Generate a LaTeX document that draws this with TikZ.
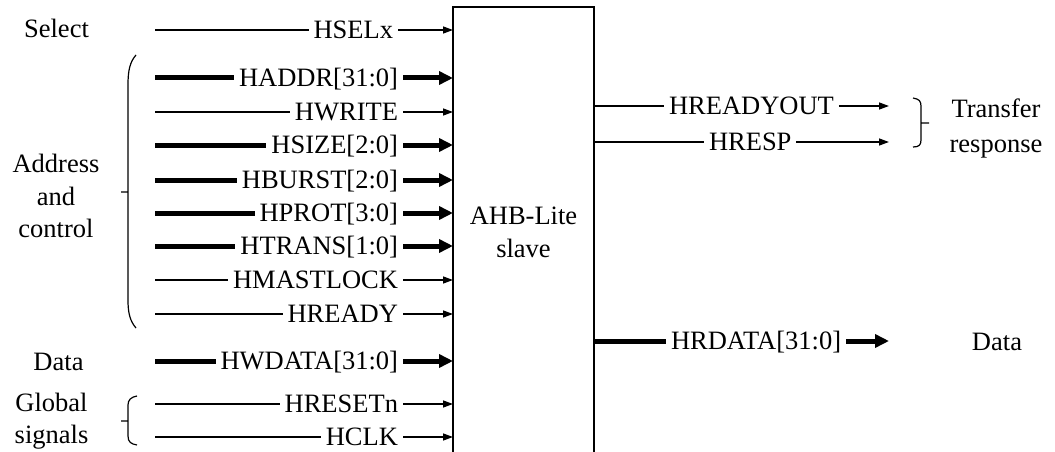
\documentclass[tikz,border=0pt]{standalone}
\usepackage{fontspec}
\setmainfont{Liberation Serif}
\usetikzlibrary{arrows.meta}
\begin{document}
\begin{tikzpicture}[x=1pt,y=-1pt,
  txt/.style={font=\fontsize{26.5}{32.5}\selectfont, inner sep=0pt, outer sep=0pt},
  sig/.style={txt, inner xsep=5pt, text height=17.5pt, text depth=0pt},
  wthin/.style={line width=1.3pt},
  wthick/.style={line width=5pt},
  wthinA/.style={line width=1.3pt,-{Triangle[length=10pt,width=7pt]}},
  wthickA/.style={line width=5pt,-{Triangle[length=14pt,width=13pt]}},
  boxline/.style={line width=2pt},
  bracket/.style={line width=1.2pt},
]
\useasboundingbox (0,0) rectangle (1055,452);

% slave block
\node[txt, align=center, minimum width=141pt, minimum height=451pt, anchor=north west] (box) at (453,7) {AHB-Lite\\slave};
\draw[boxline] (box.south west) -- (box.north west) -- (box.north east) -- (box.south east);

% thin input signals
\foreach \n/\y/\t/\e in {sel/30/HSELx/398, wr/112/HWRITE/403, lock/280/HMASTLOCK/403, rdy/314/HREADY/403, rst/404/HRESETn/403, clk/437/HCLK/403}
{
  \node[sig, anchor=east] (s\n) at (\e,\y) {\t};
  \coordinate (c\n) at (155,\y);
  \draw[wthin] (c\n) -- (s\n.west);
  \draw[wthinA] (s\n.east) -- (s\n.east -| box.west);
}
% thick input buses
\foreach \n/\y/\t/\e in {addr/78/HADDR[31:0]/403, size/145/HSIZE[2:0]/403, burst/180/HBURST[2:0]/403, prot/213/HPROT[3:0]/403, trans/246/HTRANS[1:0]/403, wdata/361/HWDATA[31:0]/403}
{
  \node[sig, anchor=east] (s\n) at (\e,\y) {\t};
  \coordinate (c\n) at (155,\y);
  \draw[wthick] (c\n) -- (s\n.west);
  \draw[wthickA] (s\n.east) -- (s\n.east -| box.west);
}

% outputs
\node[sig, anchor=west] (ordy) at (664,106) {HREADYOUT};
\coordinate (erdy) at (889,106);
\draw[wthin] (ordy.west -| box.east) -- (ordy.west);
\draw[wthinA] (ordy.east) -- (erdy);

\node[sig, anchor=west] (oresp) at (704,142) {HRESP};
\coordinate (eresp) at (889,142);
\draw[wthin] (oresp.west -| box.east) -- (oresp.west);
\draw[wthinA] (oresp.east) -- (eresp);

\node[sig, anchor=west] (ordata) at (666,341) {HRDATA[31:0]};
\coordinate (erdata) at (889,341);
\draw[wthick] (ordata.west -| box.east) -- (ordata.west);
\draw[wthickA] (ordata.east) -- (erdata);

% braces
\draw[bracket] (136,55) .. controls (130,62) and (128,70) .. (128,85) -- (128,300)
  .. controls (128,313) and (130,321) .. (136,328) (128,192) -- (121,192);
\draw[bracket] (137,396) .. controls (131,397) and (128,400) .. (128,405) -- (128,436)
  .. controls (128,442) and (131,444) .. (137,445) (128,421) -- (121,421);
\draw[bracket] (913,98) .. controls (919,99) and (921,101) .. (921,106) -- (921,140)
  .. controls (921,145) and (919,147) .. (913,147) (921,123) -- (929,123);

% group labels
\node[txt, anchor=base] (lsel) at (56.5,38) {Select};
\node[txt, align=center] (laddr) at (56,196) {Address\\and\\control};
\node[txt, anchor=base] (ldata) at (58.5,370) {Data};
\node[txt, align=center] (lglob) at (51.5,421) {Global\\signals};
\node[txt, align=center, font=\fontsize{26.5}{35}\selectfont] (ltr) at (996,128.7) {Transfer\\response};
\node[txt, anchor=base] (rdata) at (997,350) {Data};
\end{tikzpicture}
\end{document}
